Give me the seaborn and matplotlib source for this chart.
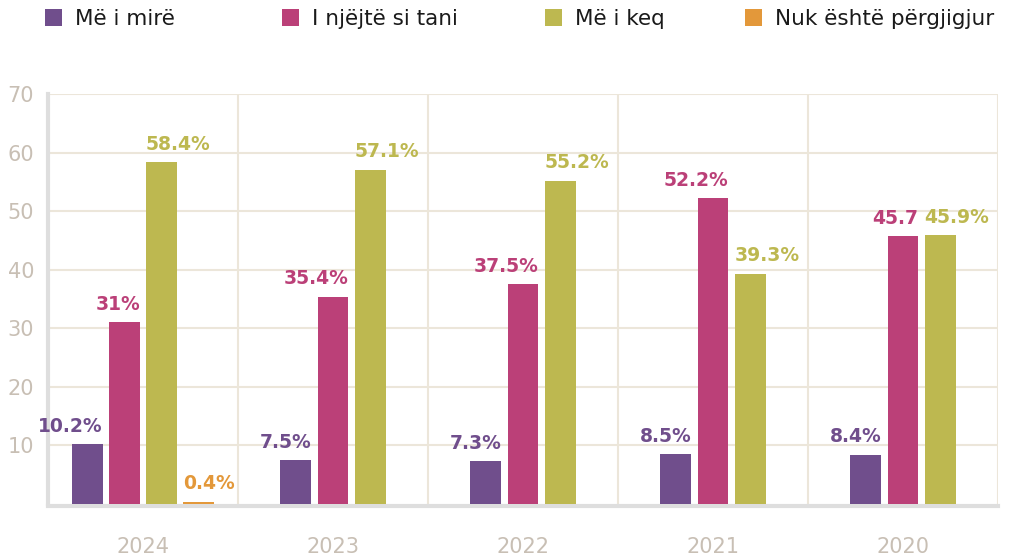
import matplotlib
matplotlib.use("Agg")
import matplotlib.pyplot as plt
import seaborn as sns
import pandas as pd
import numpy as np
from matplotlib.patches import Patch

# ---- data ----
years = ["2024", "2023", "2022", "2021", "2020"]
categories = ["Më i mirë", "I njëjtë si tani", "Më i keq", "Nuk është përgjigjur"]
me_mire = [10.2, 7.5, 7.3, 8.5, 8.4]
njejte = [31, 35.4, 37.5, 52.2, 45.7]
me_keq = [58.4, 57.1, 55.2, 39.3, 45.9]
pa_pergjigje = [0.4, None, None, None, None]
labels_me_mire = ["10.2%", "7.5%", "7.3%", "8.5%", "8.4%"]
labels_njejte = ["31%", "35.4%", "37.5%", "52.2%", "45.7"]
labels_me_keq = ["58.4%", "57.1%", "55.2%", "39.3%", "45.9%"]
labels_pa_pergjigje = ["0.4%", "", "", "", ""]
y_ticks = [10, 20, 30, 40, 50, 60, 70]

colors = ["#704e8c", "#bb4078", "#bdb850", "#e3983a"]
palette = dict(zip(categories, colors))

series = [me_mire, njejte, me_keq, pa_pergjigje]
label_series = [labels_me_mire, labels_njejte, labels_me_keq, labels_pa_pergjigje]
rows = []
for cat, vals, labs in zip(categories, series, label_series):
    for y, v, l in zip(years, vals, labs):
        if v is not None:
            rows.append({"year": y, "cat": cat, "value": v, "label": l})
df = pd.DataFrame(rows)

sns.set_style("white")
plt.rcParams["font.family"] = ["DejaVu Sans"]

fig = plt.figure(figsize=(10.12, 5.58), dpi=100)
ax = fig.add_axes([48 / 1012, 1 - 504 / 558, 950 / 1012, 410 / 558])

tick_color = "#c8bfb4"
grid_color = "#ece6da"
axis_color = "#dedede"

slot = 0.195
for y in years:
    sub = df[df["year"] == y]
    present = [c for c in categories if c in set(sub["cat"])]
    n = len(present)
    before = len(ax.containers)
    sns.barplot(data=sub, x="year", y="value", hue="cat", order=years,
                hue_order=present, palette=palette, width=slot * n, gap=0.164,
                errorbar=None, legend=False, saturation=1, linewidth=0,
                edgecolor="none", ax=ax, zorder=3)
    new = ax.containers[before:]
    for cat, cont in zip(present, new):
        lab = sub[sub["cat"] == cat]["label"].iloc[0]
        for bar in cont:
            h = bar.get_height()
            if categories.index(cat) < 2:
                xx = bar.get_x() + bar.get_width()
                ha = "right"
            else:
                xx = bar.get_x()
                ha = "left"
            ax.annotate(lab, (xx, h), xytext=(0, 6), textcoords="offset points",
                        ha=ha, va="bottom", fontsize=13.5, fontweight="bold",
                        color=palette[cat])

ax.set_xlim(-0.5, 4.5)
ax.set_ylim(0, 70)
ax.set_yticks(y_ticks)
ax.set_yticklabels([str(t) for t in y_ticks])
ax.set_xticks(range(len(years)))
ax.set_xticklabels(years)
ax.set_xticks(np.arange(-0.5, 5, 1), minor=True)
ax.set_xlabel("")
ax.set_ylabel("")

ax.set_axisbelow(True)
ax.yaxis.grid(True, color=grid_color, lw=1.5)
ax.xaxis.grid(True, which="minor", color=grid_color, lw=1.5)
ax.xaxis.grid(False, which="major")

for s in ["top", "right"]:
    ax.spines[s].set_visible(False)
for s in ["left", "bottom"]:
    ax.spines[s].set_color(axis_color)
    ax.spines[s].set_linewidth(3)
    ax.spines[s].set_zorder(2)
ax.spines["bottom"].set_position(("outward", 1.5))

ax.tick_params(axis="y", direction="in", length=16, width=2, color=axis_color,
               labelcolor=tick_color, labelsize=15, pad=10)
ax.tick_params(axis="x", which="major", length=0, labelcolor=tick_color,
               labelsize=15, pad=22)
ax.tick_params(axis="x", which="minor", direction="in", length=7, width=2,
               color=axis_color)

# legend
legend_x = [45, 282, 545, 745]
for cat, lx in zip(categories, legend_x):
    leg = fig.legend(handles=[Patch(facecolor=palette[cat], edgecolor="none", label=cat)],
                     loc="center left", bbox_to_anchor=(lx / 1012, 1 - 19 / 558),
                     frameon=False, fontsize=15.5, handlelength=0.8, handleheight=0.8,
                     handletextpad=0.6, borderpad=0, borderaxespad=0)
    for t in leg.get_texts():
        t.set_color("#1a1a1a")

fig.savefig("out.png", dpi=100)
